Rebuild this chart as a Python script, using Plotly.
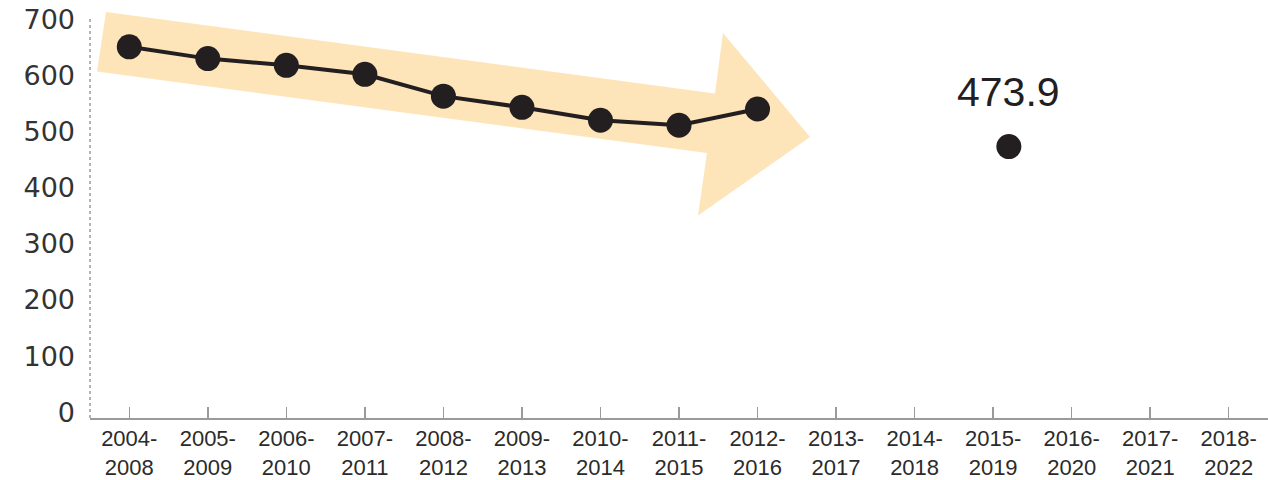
import plotly.graph_objects as go

# ---- data ----
periods = ["2004-2008", "2005-2009", "2006-2010", "2007-2011", "2008-2012",
           "2009-2013", "2010-2014", "2011-2015", "2012-2016", "2013-2017",
           "2014-2018", "2015-2019", "2016-2020", "2017-2021", "2018-2022"]
trend_periods = ["2004-2008", "2005-2009", "2006-2010", "2007-2011", "2008-2012",
                 "2009-2013", "2010-2014", "2011-2015", "2012-2016"]
trend_values = [652, 631, 619, 603, 564, 544, 521, 512, 541]
latest_period = "2015-2019"
latest_value = 473.9
y_ticks = [0, 100, 200, 300, 400, 500, 600, 700]

# ---- layout constants (page pixels; body margin removed below) ----
W, H = 1268, 480
PLOT_L, PLOT_R, PLOT_T, PLOT_B = 90, 1268, 18, 421
ML, MR, MT, MB = PLOT_L, W - PLOT_R, PLOT_T, H - PLOT_B
PW, PH = PLOT_R - PLOT_L, PLOT_B - PLOT_T
LATEST_OFFSET = 0.2  # the lone point sits slightly right of its tick

idx = {p: i for i, p in enumerate(periods)}
tick_text = [p.replace("-", "-<br>") for p in periods]

INK = "#231f20"
ARROW = "#fde5b9"

fig = go.Figure()

fig.add_trace(go.Scatter(
    x=[idx[p] for p in trend_periods], y=trend_values,
    mode="lines+markers",
    line=dict(color=INK, width=4),
    marker=dict(color=INK, size=25),
    hoverinfo="skip", showlegend=False, cliponaxis=False,
))
fig.add_trace(go.Scatter(
    x=[idx[latest_period] + LATEST_OFFSET], y=[latest_value],
    mode="markers",
    marker=dict(color=INK, size=25),
    hoverinfo="skip", showlegend=False, cliponaxis=False,
))
fig.add_annotation(
    x=idx[latest_period] + LATEST_OFFSET, y=latest_value,
    text=f"{latest_value:.1f}", showarrow=False, yshift=55,
    font=dict(family="Liberation Sans", size=41, color=INK),
)

# decorative arrow, page pixel coords -> paper coords
def px(x, y):
    return ((x - PLOT_L) / PW, (PLOT_B - y) / PH)

arrow_px = [(106, 12), (715, 94), (723, 33), (810, 138), (698, 217), (707, 154), (97, 72)]
pts = [px(x, y) for x, y in arrow_px]
path = "M " + " L ".join(f"{a:.5f},{b:.5f}" for a, b in pts) + " Z"
fig.add_shape(type="path", path=path, xref="paper", yref="paper",
              fillcolor=ARROW, line=dict(width=0), layer="below")

# dotted y axis line
fig.add_shape(type="line", xref="paper", yref="paper", x0=0, x1=0, y0=0, y1=1,
              line=dict(color="#9a9a9a", width=1.5, dash="dot"), layer="below")

fig.update_layout(
    width=W, height=H,
    margin=dict(l=ML, r=MR, t=MT, b=MB),
    paper_bgcolor="white", plot_bgcolor="white",
    hovermode=False,
    xaxis=dict(
        range=[-0.5, len(periods) - 0.5],
        tickmode="array", tickvals=list(range(len(periods))), ticktext=tick_text,
        showgrid=False, zeroline=False,
        showline=True, linecolor="#9a9a9a", linewidth=2,
        ticks="inside", ticklen=11, tickwidth=1.5, tickcolor="#9a9a9a",
        tickfont=dict(family="Liberation Sans", size=22, color="#2b2b2b"),
    ),
    yaxis=dict(
        range=[-10.6, 703.5],
        tickmode="array", tickvals=y_ticks,
        showgrid=False, zeroline=False, showline=False,
        ticks="", ticklabelstandoff=14,
        tickfont=dict(family="DejaVu Sans", size=27, color="#333333"),
    ),
)

fig.write_html(
    "out.html",
    config={"displayModeBar": False, "staticPlot": True},
    post_script="document.body.style.margin='0';document.body.style.overflow='hidden';",
)
